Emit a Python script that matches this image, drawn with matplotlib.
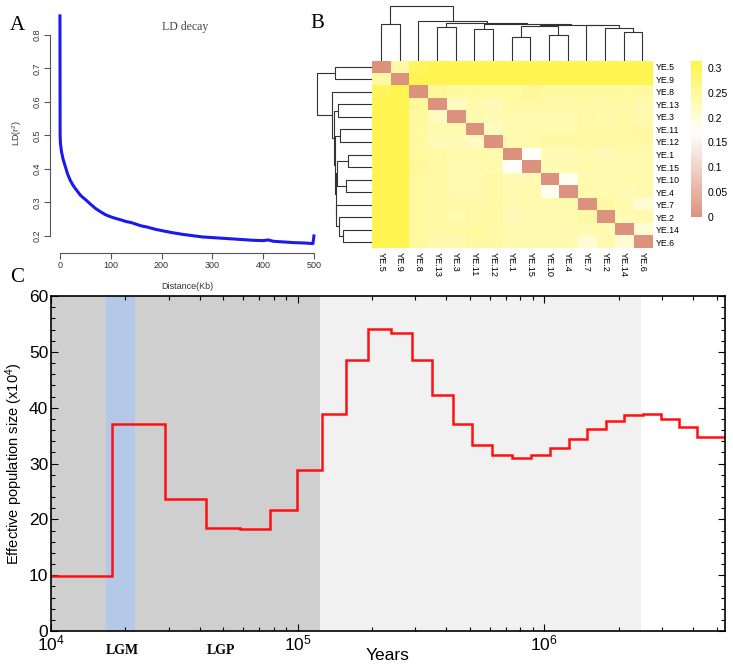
import numpy as np
import matplotlib
matplotlib.use('Agg')
import matplotlib.pyplot as plt
from matplotlib.colors import LinearSegmentedColormap
from matplotlib.ticker import MultipleLocator, LogLocator, NullFormatter, FixedLocator

plt.rcParams['font.family'] = ['Liberation Sans', 'DejaVu Sans']
plt.rcParams['mathtext.fontset'] = 'custom'
plt.rcParams['mathtext.rm'] = 'Liberation Sans'
plt.rcParams['mathtext.it'] = 'Liberation Sans:italic'
plt.rcParams['mathtext.bf'] = 'Liberation Sans:bold'

# ---------------- data ----------------
# Panel A: LD decay
ld_distance_kb = [0, 0.3, 1, 3, 6, 10, 15, 20, 25, 30, 35, 40, 45, 50, 55, 60,
                  70, 80, 90, 100, 110, 120, 130, 140, 150, 160, 170, 180, 190, 200,
                  220, 240, 260, 280, 300, 320, 340, 360, 380, 400,
                  410, 420, 440, 460, 480, 490, 498, 500]
ld_r2 = [0.857, 0.50, 0.476, 0.452, 0.43, 0.41, 0.385, 0.367, 0.353, 0.342, 0.332, 0.322,
         0.315, 0.309, 0.302, 0.295, 0.282, 0.272, 0.263, 0.257, 0.252, 0.248, 0.243, 0.240,
         0.235, 0.230, 0.227, 0.223, 0.219, 0.216, 0.210, 0.205, 0.201, 0.197, 0.195,
         0.193, 0.191, 0.189, 0.187, 0.186, 0.188, 0.184, 0.182, 0.180, 0.179, 0.178, 0.177, 0.200]
ld_yticks = [0.2, 0.3, 0.4, 0.5, 0.6, 0.7, 0.8]
ld_xticks = [0, 100, 200, 300, 400, 500]

# Panel B: pairwise distance heatmap (display order)
samples = ['YE.5', 'YE.9', 'YE.8', 'YE.13', 'YE.3', 'YE.11', 'YE.12', 'YE.1',
           'YE.15', 'YE.10', 'YE.4', 'YE.7', 'YE.2', 'YE.14', 'YE.6']
upper_rows = [
    [.24, .30, .31, .31, .31, .31, .31, .31, .31, .31, .31, .31, .31, .31],
    [.31, .31, .31, .31, .31, .31, .31, .31, .31, .31, .31, .31, .31],
    [.25, .245, .245, .245, .245, .25, .245, .245, .245, .245, .245, .245],
    [.22, .235, .225, .24, .24, .24, .24, .24, .24, .24, .235],
    [.235, .23, .235, .235, .235, .235, .24, .235, .24, .235],
    [.22, .235, .235, .235, .235, .24, .24, .245, .24],
    [.235, .235, .24, .24, .24, .24, .24, .24],
    [.175, .23, .23, .235, .225, .235, .235],
    [.23, .235, .235, .235, .235, .235],
    [.18, .235, .235, .235, .235],
    [.235, .235, .23, .235],
    [.24, .235, .205],
    [.23, .235],
    [.205],
]
color_ticks = [0, 0.05, 0.1, 0.15, 0.2, 0.25, 0.3]
color_tick_labels = ['0', '0.05', '0.1', '0.15', '0.2', '0.25', '0.3']
# clustering tree: (left, right, height, new node)
merge_left = ['YE.5', 'YE.13', 'YE.11', 'YE.1', 'YE.10', 'D', 'YE.14', 'YE.2', 'YE.7', 'F', 'C', 'B', 'YE.8', 'A']
merge_right = ['YE.9', 'YE.3', 'YE.12', 'YE.15', 'YE.4', 'E', 'YE.6', 'G', 'H', 'I', 'J', 'K', 'L', 'M']
merge_height = [36.4, 33.4, 32.0, 23.4, 25.7, 34.7, 29.0, 32.4, 35.4, 36.0, 36.8, 37.5, 40.0, 55.0]
merge_name = ['A', 'B', 'C', 'D', 'E', 'F', 'G', 'H', 'I', 'J', 'K', 'L', 'M', 'root']

# Panel C: PSMC
psmc_edges = [1e4, 17.7e3, 28.9e3, 42.5e3, 58.3e3, 77.2e3, 99e3, 125.6e3, 157e3, 193.6e3,
              238e3, 290e3, 351e3, 425e3, 511e3, 614e3, 738e3, 881e3, 1.05e6, 1.26e6,
              1.49e6, 1.78e6, 2.11e6, 2.51e6, 2.97e6, 3.52e6, 4.17e6, 5.4e6]
psmc_ne = [9.9, 37.1, 23.6, 18.4, 18.25, 21.7, 28.9, 38.8, 48.6, 54.1, 53.45, 48.5, 42.2,
           37.0, 33.4, 31.6, 31.0, 31.6, 32.8, 34.4, 36.2, 37.7, 38.6, 38.8, 38.0, 36.6, 34.7]
period_start = [1e4, 1.23e5, 16.7e3]
period_end = [1.23e5, 2.47e6, 22e3]
period_color = ['#d0cfd0', '#f1f1f1', '#b4c8e8']
period_labels = ['LGM', 'LGP']
period_label_x = [1.95e4, 4.9e4]

# ---------------- layout helpers ----------------
W, H = 733, 668
fig = plt.figure(figsize=(W / 100, H / 100), dpi=100)


def box(l, t, r, b):
    return [l / W, 1 - b / H, (r - l) / W, (b - t) / H]


# ---------------- Panel A ----------------
axA = fig.add_axes(box(49.8, 12.9, 324.1, 253))
axA.plot(ld_distance_kb, ld_r2, color='#1a1aee', lw=2.2, solid_joinstyle='round')
axA.set_xlim(-20, 520)
axA.set_ylim(0.149, 0.866)
for s in ['top', 'right']:
    axA.spines[s].set_visible(False)
axA.spines['left'].set_bounds(0.2, 0.8)
axA.spines['bottom'].set_bounds(0, 500)
for s in ['left', 'bottom']:
    axA.spines[s].set_color('#555555')
    axA.spines[s].set_linewidth(0.8)
axA.set_yticks(ld_yticks)
axA.set_yticklabels([f'{v:.1f}' for v in ld_yticks], rotation=90, va='center')
axA.set_xticks(ld_xticks)
axA.tick_params(direction='out', length=4, width=0.8, colors='#555555', labelsize=6.5,
                labelcolor='#333333', pad=2)
axA.set_ylabel('LD(r$^2$)', fontsize=6.5, color='#333333')
axA.yaxis.set_label_coords(-0.095, 0.5)
axA.set_xlabel('Distance(Kb)', fontsize=6.5, color='#333333')
axA.xaxis.set_label_coords((187 - 49.8) / 274.3, -(282 - 253) / 240.1)
fig.text(185 / W, 1 - 27 / H, 'LD decay', family='Liberation Serif', fontsize=8.5,
         color='#444444', ha='center', va='center')

# ---------------- Panel B ----------------
n = len(samples)
mat = np.zeros((n, n))
for i, row in enumerate(upper_rows):
    for k, v in enumerate(row):
        j = i + 1 + k
        mat[i, j] = v
        mat[j, i] = v

cmap = LinearSegmentedColormap.from_list(
    'hm', [(0.0, '#dd927d'), (0.54, '#ffffff'), (1.0, '#fff44a')])
vmax = 0.315

axH = fig.add_axes(box(371.7, 60.7, 651.7, 248.3))
im = axH.imshow(mat, cmap=cmap, vmin=0, vmax=vmax, aspect='auto', interpolation='nearest')
for s in axH.spines.values():
    s.set_visible(False)
axH.yaxis.tick_right()
axH.set_yticks(range(n))
axH.set_yticklabels(samples, fontsize=6.3)
axH.set_xticks(range(n))
axH.set_xticklabels(samples, rotation=-90, va='top', ha='center', fontsize=6.6)
axH.tick_params(length=0, pad=3)

# dendrograms
pos = {name: i for i, name in enumerate(samples)}
hgt = {name: 0.0 for name in samples}
segments = []
for a, b, h, name in zip(merge_left, merge_right, merge_height, merge_name):
    segments.append(([pos[a], pos[a], pos[b], pos[b]], [hgt[a], h, h, hgt[b]]))
    pos[name] = (pos[a] + pos[b]) / 2
    hgt[name] = h

axT = fig.add_axes(box(371.7, 0, 651.7, 60.7))
axL = fig.add_axes(box(311.0, 60.7, 371.7, 248.3))
for xs, hs in segments:
    axT.plot(xs, hs, color='#333333', lw=0.8, solid_capstyle='butt')
    axL.plot(hs, xs, color='#333333', lw=0.8, solid_capstyle='butt')
axT.set_xlim(-0.5, n - 0.5)
axT.set_ylim(0, 60.7)
axT.axis('off')
axL.set_ylim(n - 0.5, -0.5)
axL.set_xlim(60.7, 0)
axL.axis('off')

cax = fig.add_axes(box(690.7, 60.7, 701.7, 216.7))
cb = fig.colorbar(im, cax=cax)
cb.outline.set_visible(False)
cb.set_ticks(color_ticks)
cb.set_ticklabels(color_tick_labels)
cax.tick_params(length=0, labelsize=7.5, pad=4)

# ---------------- Panel C ----------------
axC = fig.add_axes(box(51, 296, 725, 631))
for x0, x1, c in zip(period_start, period_end, period_color):
    axC.axvspan(x0, x1, color=c, lw=0, zorder=0)
axC.stairs(psmc_ne, psmc_edges, color='#ff1010', lw=1.8, baseline=None, zorder=3)
axC.set_xscale('log')
axC.set_xlim(1e4, 5.4e6)
axC.set_ylim(0, 60)
axC.xaxis.set_major_locator(FixedLocator([1e4, 1e5, 1e6]))
axC.xaxis.set_minor_locator(LogLocator(base=10, subs=np.arange(2, 10), numticks=20))
axC.xaxis.set_minor_formatter(NullFormatter())
axC.yaxis.set_major_locator(MultipleLocator(10))
axC.yaxis.set_minor_locator(MultipleLocator(2))
axC.tick_params(which='both', direction='in', top=True, right=True, labelsize=12.5,
                width=0.8, pad=2)
axC.tick_params(which='major', length=5)
axC.tick_params(which='minor', length=3)
for s in axC.spines.values():
    s.set_linewidth(1.2)
    s.set_zorder(5)
axC.set_ylabel('Effective population size (x10$^4$)', fontsize=10.5)
axC.yaxis.set_label_coords(-0.039, 0.5)
axC.set_xlabel('Years', fontsize=12.5)
axC.xaxis.set_label_coords(0.5, -0.05)
for lab, x in zip(period_labels, period_label_x):
    axC.text(x, -0.04, lab, transform=axC.get_xaxis_transform(), ha='center', va='top',
             family='Liberation Serif', fontweight='bold', fontsize=10)

# panel letters
fig.text(17 / W, 1 - 25 / H, 'A', family='Liberation Serif', fontsize=15, ha='center', va='center')
fig.text(317 / W, 1 - 23 / H, 'B', family='Liberation Serif', fontsize=15, ha='center', va='center')
fig.text(17 / W, 1 - 278 / H, 'C', family='Liberation Serif', fontsize=15, ha='center', va='center')

fig.savefig('out.png', dpi=100)
